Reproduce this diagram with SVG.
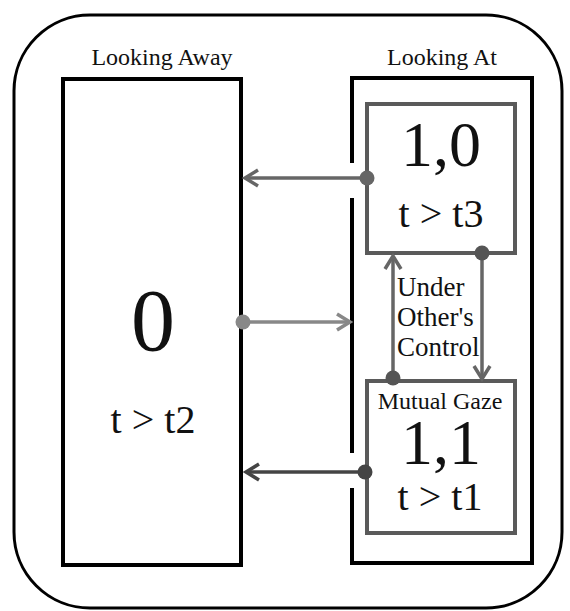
<svg xmlns="http://www.w3.org/2000/svg" width="570" height="611" viewBox="0 0 570 611">
<defs>
<style>
text{font-family:"Liberation Serif","Times New Roman",serif;fill:#111;}
.box{fill:none;stroke:#000;stroke-width:4;}
.sub{fill:none;stroke:#5a5a5a;stroke-width:4;}
.lbl{font-size:24px;text-anchor:middle;}
.big{font-size:64px;text-anchor:middle;}
.cond{font-size:40px;text-anchor:middle;}
.ctl{font-size:27px;}
.c1{stroke:#666;stroke-width:3.5;fill:none;}
.c2{stroke:#888;stroke-width:3.5;fill:none;}
.c3{stroke:#444;stroke-width:3.5;fill:none;}
</style>
<marker id="a1" markerUnits="userSpaceOnUse" markerWidth="20" markerHeight="20" viewBox="-16 -10 20 20" refX="0" refY="0" orient="auto"><path d="M-13,-8 L0,0 L-13,8" fill="none" stroke="#666" stroke-width="3.5"/></marker>
<marker id="a2" markerUnits="userSpaceOnUse" markerWidth="20" markerHeight="20" viewBox="-16 -10 20 20" refX="0" refY="0" orient="auto"><path d="M-13,-8 L0,0 L-13,8" fill="none" stroke="#888" stroke-width="3.5"/></marker>
<marker id="a3" markerUnits="userSpaceOnUse" markerWidth="20" markerHeight="20" viewBox="-16 -10 20 20" refX="0" refY="0" orient="auto"><path d="M-13,-8 L0,0 L-13,8" fill="none" stroke="#444" stroke-width="3.5"/></marker>
</defs>
<rect id="frame" x="14" y="15" width="548" height="593" rx="76" ry="76" fill="#fff" stroke="#000" stroke-width="3"/>
<g id="looking-away">
<text class="lbl" x="162" y="65">Looking Away</text>
<rect class="box" x="63" y="79" width="178" height="486"/>
<text class="big" x="153" y="350" style="font-size:88px">0</text>
<text class="cond" x="153" y="433">t &gt; t2</text>
</g>
<g id="looking-at">
<text class="lbl" x="442" y="65">Looking At</text>
<path class="box" d="M352,163 V78 H532 V563 H352 V488 M352,453 V198"/>
</g>
<g id="state-10">
<rect class="sub" x="367" y="104" width="148" height="149"/>
<text class="big" x="441" y="166">1,0</text>
<text class="cond" x="441" y="227">t &gt; t3</text>
</g>
<g id="state-11">
<rect class="sub" x="367" y="381" width="148" height="152"/>
<text class="lbl" x="440" y="409">Mutual Gaze</text>
<text class="big" x="441" y="464">1,1</text>
<text class="cond" x="440" y="510">t &gt; t1</text>
</g>
<g id="control-label">
<text class="ctl" x="397" y="296">Under</text>
<text class="ctl" x="397" y="326">Other's</text>
<text class="ctl" x="397" y="356">Control</text>
</g>
<g id="connectors">
<line class="c1" x1="367" y1="178" x2="245" y2="178" marker-end="url(#a1)"/>
<circle cx="367" cy="178" r="7.5" fill="#666"/>
<line class="c2" x1="243" y1="322" x2="350" y2="322" marker-end="url(#a2)"/>
<circle cx="243" cy="322" r="7.5" fill="#888"/>
<line class="c3" x1="365" y1="472" x2="246" y2="472" marker-end="url(#a3)"/>
<circle cx="365" cy="472" r="7.5" fill="#444"/>
<line class="c1" x1="393" y1="377" x2="393" y2="256" marker-end="url(#a1)"/>
<circle cx="393" cy="378" r="7.5" fill="#555"/>
<line class="c1" x1="482" y1="253" x2="482" y2="379" marker-end="url(#a1)"/>
<circle cx="482" cy="253" r="7.5" fill="#555"/>
</g>
</svg>
